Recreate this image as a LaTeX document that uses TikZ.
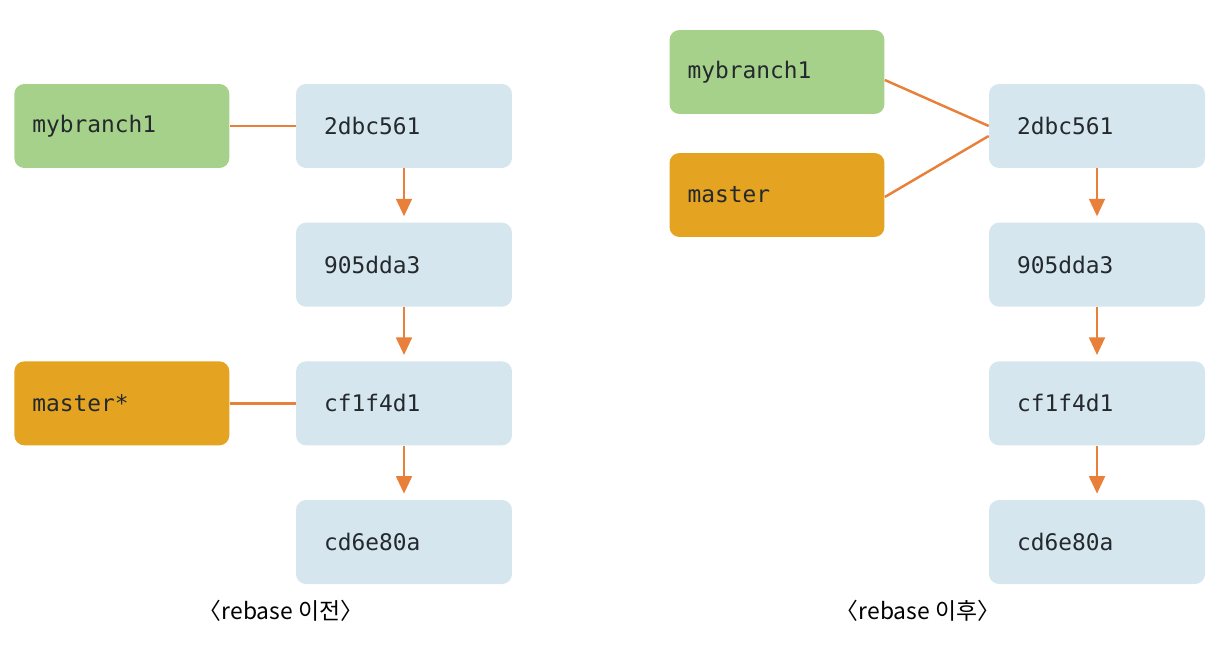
\documentclass[tikz,border=0pt]{standalone}
\usepackage{fontspec}
\setmonofont{DejaVu Sans Mono}
\newfontfamily\krfont{Noto Sans CJK KR}
\usepackage{tikz}
\usetikzlibrary{positioning,arrows.meta}
\definecolor{commitblue}{HTML}{D6E6EE}
\definecolor{branchgreen}{HTML}{A6D18A}
\definecolor{branchorange}{HTML}{E4A320}
\definecolor{linkorange}{HTML}{E8803A}
\definecolor{hashtext}{HTML}{24292D}

\begin{document}
\begin{tikzpicture} [x=0.02cm, y=0.02cm,
        box/.style={rounded corners=0.2cm, minimum height=1.68cm, align=left,
          font=\ttfamily\fontsize{13}{15}\selectfont, text=hashtext},
        commit/.style={box, fill=commitblue, minimum width=4.32cm, inner xsep=0.56cm, text width=3.2cm},
        branch/.style={box, minimum width=4.3cm, inner xsep=0.36cm, text width=3.58cm},
        ref/.style={-, line width=1.4pt, linkorange},
        parent/.style={-{Triangle[length=10pt, width=9pt]}, line width=1.4pt, linkorange, shorten >=0.12cm},
        caption/.style={font=\krfont\fontsize{13}{15}\selectfont, text=black}]
        \useasboundingbox (0,0) rectangle (1219,-655);
        % before rebase
        \node[commit] (a1) at (404,-126) {2dbc561};
        \node[commit, below=1.08cm of a1] (a2) {905dda3};
        \node[commit, below=1.08cm of a2] (a3) {cf1f4d1};
        \node[commit, below=1.08cm of a3] (a4) {cd6e80a};
        \node[branch, fill=branchgreen, left=1.32cm of a1] (abranch) {mybranch1};
        \node[branch, fill=branchorange, left=1.32cm of a3] (amaster) {master*};
        \node[caption] (acap) at (281,-611) {〈rebase 이전〉};
        % after rebase
        \node[commit] (b1) at (1097,-126) {2dbc561};
        \node[commit, below=1.08cm of b1] (b2) {905dda3};
        \node[commit, below=1.08cm of b2] (b3) {cf1f4d1};
        \node[commit, below=1.08cm of b3] (b4) {cd6e80a};
        \node[branch, fill=branchgreen] (bbranch) at (777,-72) {mybranch1};
        \node[branch, fill=branchorange] (bmaster) at (777,-195) {master};
        \node[caption] (bcap) at (918,-611) {〈rebase 이후〉};

        \foreach \s\t in {a1/a2, a2/a3, a3/a4, b1/b2, b2/b3, b3/b4} {
          \draw[parent] (\s) -- (\t);
        };
        \draw[ref] (abranch) -- (a1);
        \draw[ref] (amaster) -- (a3);
        \draw[ref] ([yshift=-0.16cm]bbranch.east) -- (b1.west);
        \draw[ref] ([yshift=-0.04cm]bmaster.east) -- ([yshift=-0.2cm]b1.west);
      \end{tikzpicture}
\end{document}
